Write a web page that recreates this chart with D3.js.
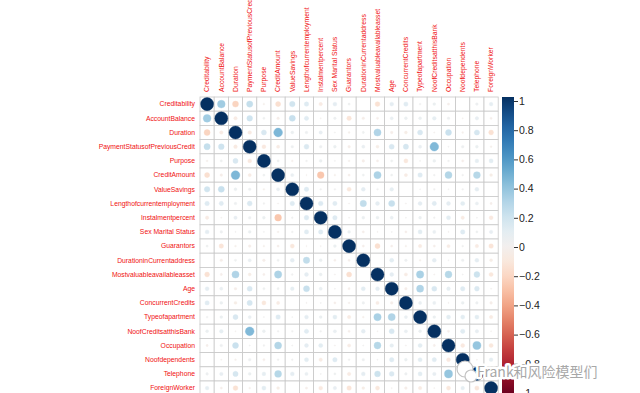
<!DOCTYPE html>
<html>
<head>
<meta charset="utf-8">
<script src="https://cdn.jsdelivr.net/npm/d3@7"></script>
<style>
  body { margin: 0; background: #fff; }
  svg { display: block; font-family: "Liberation Sans", Arial, sans-serif; }
</style>
</head>
<body>
<svg width="640" height="393"></svg>
<script>
// **** Data
const variables = [
  "Creditability", "AccountBalance", "Duration", "PaymentStatusofPreviousCredit",
  "Purpose", "CreditAmount", "ValueSavings", "Lengthofcurrentemployment",
  "Instalmentpercent", "Sex Marital Status", "Guarantors", "DurationinCurrentaddress",
  "Mostvaluableavailableasset", "Age", "ConcurrentCredits", "Typeofapartment",
  "NoofCreditsatthisBank", "Occupation", "Noofdependents", "Telephone", "ForeignWorker"
];

// lower triangle, row i holds correlations with columns 0..i-1
const corrLower = [
  [],
  [0.35],
  [-0.21, -0.07],
  [0.23, 0.19, -0.08],
  [-0.02, 0.03, 0.15, -0.09],
  [-0.15, -0.04, 0.45, -0.06, 0.03],
  [0.18, 0.22, 0.05, 0.04, -0.02, 0.06],
  [0.12, 0.11, 0.04, 0.14, 0.02, -0.01, 0.12],
  [-0.07, -0.01, 0.07, 0.04, 0.05, -0.27, 0.02, 0.13],
  [0.09, 0.04, 0.01, 0.05, 0.01, -0.02, 0.02, 0.11, 0.12],
  [0.03, -0.12, -0.02, -0.04, -0.02, -0.03, -0.1, -0.01, -0.01, 0.05],
  [0.0, -0.04, 0.03, 0.06, -0.04, 0.03, 0.09, 0.24, 0.05, -0.03, -0.03],
  [-0.14, -0.03, 0.30, -0.05, -0.03, 0.31, 0.02, 0.09, 0.05, -0.01, -0.15],
  [0.09, 0.06, -0.04, 0.15, 0.03, 0.03, 0.08, 0.22, 0.06, 0.01, -0.03, 0.1, 0.09],
  [0.11, 0.05, -0.05, 0.16, -0.1, -0.06, 0.0, -0.01, 0.01, -0.03, -0.02, 0.04, -0.06, -0.04],
  [0.02, 0.05, 0.15, 0.06, 0.01, 0.12, 0.01, 0.09, 0.05, 0.1, -0.07, -0.02, 0.32, 0.30, 0.06],
  [0.05, 0.08, -0.01, 0.44, 0.05, 0.02, 0.02, 0.11, 0.02, 0.06, -0.03, 0.09, -0.01, 0.15, 0.06, 0.05],
  [-0.03, 0.04, 0.21, 0.01, 0.02, 0.29, 0.01, 0.09, 0.10, -0.01, -0.06, 0.01, 0.28, 0.08, -0.01, 0.1, -0.03],
  [0.0, -0.01, -0.02, 0.04, -0.03, 0.02, 0.02, 0.1, -0.07, 0.12, 0.02, 0.04, 0.01, 0.12, 0.05, 0.1, 0.11, -0.09],
  [0.04, 0.07, 0.16, 0.05, 0.08, 0.28, 0.09, 0.06, 0.01, 0.03, -0.07, 0.09, 0.20, 0.14, 0.04, 0.1, 0.07, 0.38, -0.01],
  [0.08, -0.03, -0.14, -0.02, 0.1, -0.05, 0.0, -0.03, -0.09, 0.07, -0.12, -0.05, -0.1, -0.01, -0.04, -0.07, -0.01, -0.1, 0.08, -0.11]
];

const legendTicks = [1, 0.8, 0.6, 0.4, 0.2, 0, -0.2, -0.4, -0.6, -0.8, -1];
const watermark = "Frank和风险模型们";

// **** Build full matrix
const cells = [];
variables.forEach((row, i) => {
  variables.forEach((col, j) => {
    let v;
    if (i === j) v = 1;
    else if (j < i) v = corrLower[i][j];
    else v = corrLower[j][i];
    cells.push({ row, col, v });
  });
});

// **** Scales
const svg = d3.select("svg");
const gridLeft = 200, gridTop = 97, cell = 14.2;
const size = cell * variables.length;

const x = d3.scaleBand().domain(variables).range([gridLeft, gridLeft + size]);
const y = d3.scaleBand().domain(variables).range([gridTop, gridTop + size]);
const radius = d3.scaleSqrt().domain([0, 1]).range([0, cell * 0.46]);
const color = v => d3.interpolateRdBu((v + 1) / 2);

// **** Grid
svg.append("g")
  .selectAll("rect")
  .data(cells)
  .join("rect")
  .attr("x", d => x(d.col))
  .attr("y", d => y(d.row))
  .attr("width", x.bandwidth())
  .attr("height", y.bandwidth())
  .attr("fill", "white")
  .attr("stroke", "#c8c8c8")
  .attr("stroke-width", 0.8);

// **** Circles
svg.append("g")
  .selectAll("circle")
  .data(cells)
  .join("circle")
  .attr("cx", d => x(d.col) + x.bandwidth() / 2)
  .attr("cy", d => y(d.row) + y.bandwidth() / 2)
  .attr("r", d => radius(Math.abs(d.v)))
  .attr("fill", d => color(d.v))
  .attr("stroke", d => color(d.v))
  .attr("stroke-width", 0.4);

// **** Labels
svg.append("g")
  .selectAll("text")
  .data(variables)
  .join("text")
  .attr("x", gridLeft - 5)
  .attr("y", d => y(d) + y.bandwidth() / 2)
  .attr("dy", "0.35em")
  .attr("text-anchor", "end")
  .attr("font-size", 6.8)
  .attr("fill", "#f01010")
  .text(d => d);

svg.append("g")
  .selectAll("text")
  .data(variables)
  .join("text")
  .attr("transform", d => `translate(${x(d) + x.bandwidth() / 2},${gridTop - 5}) rotate(-90)`)
  .attr("dy", "0.35em")
  .attr("text-anchor", "start")
  .attr("font-size", 6.8)
  .attr("fill", "#f01010")
  .text(d => d);

// **** Colour legend
const barX = 502, barW = 12;
const grad = svg.append("defs").append("linearGradient")
  .attr("id", "rdbu")
  .attr("x1", 0).attr("y1", 1).attr("x2", 0).attr("y2", 0);
d3.range(0, 1.0001, 0.05).forEach(t => {
  grad.append("stop").attr("offset", t).attr("stop-color", d3.interpolateRdBu(t));
});
svg.append("rect")
  .attr("x", barX)
  .attr("y", gridTop)
  .attr("width", barW)
  .attr("height", size)
  .attr("fill", "url(#rdbu)");

const legendScale = d3.scaleLinear().domain([-1, 1]).range([393, 101]);
const legendAxis = svg.append("g")
  .attr("transform", `translate(${barX + barW},0)`)
  .call(d3.axisRight(legendScale).tickValues(legendTicks).tickSize(4).tickFormat(d3.format("")));
legendAxis.select(".domain").remove();
legendAxis.selectAll("text").attr("font-size", 10.5).attr("fill", "#222").attr("x", 5);
legendAxis.selectAll("line").attr("stroke", "#333");

// **** Watermark (sits over the -0.8 label, as in the source image)
const wm = svg.append("g");
wm.append("circle").attr("cx", 465).attr("cy", 369).attr("r", 8)
  .attr("fill", "white").attr("stroke", "#c4c4c4").attr("stroke-width", 1.2);
wm.append("circle").attr("cx", 471).attr("cy", 376).attr("r", 6)
  .attr("fill", "white").attr("stroke", "#c4c4c4").attr("stroke-width", 1.2);
wm.append("text")
  .attr("x", 477)
  .attr("y", 377)
  .attr("font-size", 14)
  .attr("font-family", "'Noto Sans CJK SC', 'Liberation Sans', sans-serif")
  .attr("fill", "#a8a8a8")
  .attr("stroke", "white")
  .attr("stroke-width", 5)
  .attr("stroke-linejoin", "round")
  .attr("paint-order", "stroke")
  .text(watermark);
</script>
</body>
</html>
